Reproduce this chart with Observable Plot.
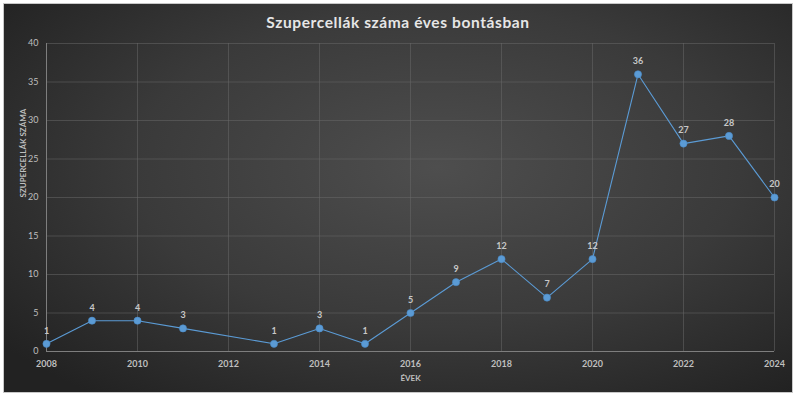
<!DOCTYPE html>
<html>
<head>
<meta charset="utf-8">
<script src="https://cdn.jsdelivr.net/npm/d3@7"></script>
<script src="https://cdn.jsdelivr.net/npm/@observablehq/plot@0.6"></script>
<style>
  html, body { margin: 0; padding: 0; background: #ffffff; }
  body { width: 798px; height: 398px; position: relative; overflow: hidden; font-family: Lato, "Open Sans", sans-serif; }
  #chart {
    position: absolute; left: 3px; top: 3px; width: 790px; height: 390px;
    background: radial-gradient(ellipse 70% 75% at 55% 42%, #4e4e4e 0%, #3a3a3a 55%, #222222 100%);
    border: 1px solid #c8c8c8; box-sizing: border-box;
  }
  #title {
    height: 32px; line-height: 36px; text-align: center; color: #e6e6e6;
    font-weight: bold; font-size: 15.5px; letter-spacing: 0.6px;
  }
</style>
</head>
<body>
<div id="chart"><div id="title">Szupercellák száma éves bontásban</div></div>
<script>
const years = [2008, 2009, 2010, 2011, 2013, 2014, 2015, 2016, 2017, 2018, 2019, 2020, 2021, 2022, 2023, 2024];
const counts = [1, 4, 4, 3, 1, 3, 1, 5, 9, 12, 7, 12, 36, 27, 28, 20];
const xTicks = [2008, 2010, 2012, 2014, 2016, 2018, 2020, 2022, 2024];
const yTicks = [0, 5, 10, 15, 20, 25, 30, 35, 40];

const data = years.map((y, i) => ({year: y, count: counts[i]}));
const blue = "#5b9bd5";

const plot = Plot.plot({
  width: 788,
  height: 356,
  marginTop: 7,
  marginBottom: 41,
  marginLeft: 42,
  marginRight: 18,
  style: {background: "transparent", color: "#bfbfbf", fontFamily: "Lato, 'Open Sans', sans-serif", fontSize: "9px"},
  x: {domain: [2008, 2024], ticks: xTicks, tickFormat: "d", label: null},
  y: {domain: [0, 40], ticks: yTicks, label: null},
  marks: [
    Plot.gridX(xTicks, {stroke: "#6a6a6a", strokeOpacity: 0.5}),
    Plot.gridY(yTicks.filter(d => d > 0), {stroke: "#6a6a6a", strokeOpacity: 0.5}),
    Plot.ruleY([0], {stroke: "#7e7e7e"}),
    Plot.ruleX([2008], {stroke: "#7e7e7e"}),
    Plot.axisX({ticks: xTicks, tickFormat: "d", tickSize: 0, tickPadding: 9, fontWeight: "bold", fill: "#bfbfbf", label: null}),
    Plot.axisY({ticks: yTicks, tickSize: 0, tickPadding: 8, fill: "#bfbfbf", label: null}),
    Plot.text(["ÉVEK"], {frameAnchor: "bottom", dy: 29, fill: "#bfbfbf", fontSize: 8, fontWeight: "bold"}),
    Plot.text(["SZUPERCELLÁK SZÁMA"], {frameAnchor: "left", dx: -23, rotate: -90, fill: "#bfbfbf", fontSize: 8, fontWeight: "bold"}),
    Plot.line(data, {x: "year", y: "count", stroke: blue, strokeWidth: 1.1}),
    Plot.dot(data, {x: "year", y: "count", r: 3.6, fill: blue, stroke: "#4a8ac6", strokeWidth: 0.6}),
    Plot.text(data, {x: "year", y: "count", text: "count", dy: -13, fill: "#c8c8c8", fontSize: 9, fontWeight: "bold"})
  ]
});
document.getElementById("chart").appendChild(plot);
</script>
</body>
</html>
